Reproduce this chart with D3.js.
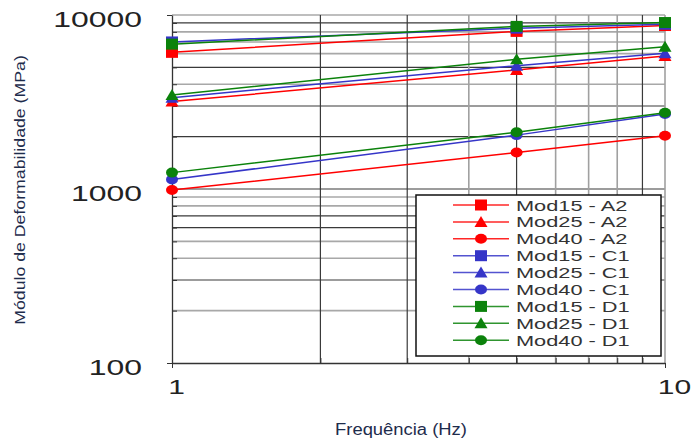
<!DOCTYPE html>
<html>
<head>
<meta charset="utf-8">
<script src="https://cdn.jsdelivr.net/npm/d3@7"></script>
<style>
  body { margin: 0; background: #fff; }
  text { font-family: "Liberation Sans", Arial, sans-serif; }
</style>
</head>
<body>
<div id="chart"></div>
<script>
// Frequencies tested (Hz)
const freqs = [1, 5, 10];

// Modulus values (MPa), one array per series
const mod15A2 = [6100, 8050, 8700];
const mod25A2 = [3180, 4830, 5810];
const mod40A2 = [986, 1620, 2025];
const mod15C1 = [7000, 8400, 8850];
const mod25C1 = [3350, 5110, 6030];
const mod40C1 = [1135, 2040, 2700];
const mod15D1 = [6800, 8600, 9050];
const mod25D1 = [3470, 5560, 6580];
const mod40D1 = [1242, 2120, 2740];

const seriesNames = ["Mod15 - A2", "Mod25 - A2", "Mod40 - A2",
                     "Mod15 - C1", "Mod25 - C1", "Mod40 - C1",
                     "Mod15 - D1", "Mod25 - D1", "Mod40 - D1"];
const seriesValues = [mod15A2, mod25A2, mod40A2, mod15C1, mod25C1, mod40C1, mod15D1, mod25D1, mod40D1];

// Axis ticks
const yTickLabels = [100, 1000, 10000];
const xTickLabels = [1, 10];

// Style per series
const colors = { A2: "#ff0000", C1: "#3535c8", D1: "#0b820b" };
const shapeOf = name => name.startsWith("Mod15") ? "square" : name.startsWith("Mod25") ? "triangle" : "circle";
const colorOf = name => colors[name.slice(-2)];

const series = seriesNames.map((name, i) => ({
    name: name,
    values: freqs.map((f, j) => ({ x: f, y: seriesValues[i][j] }))
}));

const W = 694, H = 441;
const margin = { top: 15, right: 29, bottom: 78, left: 172 };
const width = W - margin.left - margin.right;
const height = H - margin.top - margin.bottom;

const svg = d3.select("#chart").append("svg")
    .attr("width", W)
    .attr("height", H)
    .style("display", "block");

svg.append("rect").attr("width", W).attr("height", H).attr("fill", "#fff");

const g = svg.append("g").attr("transform", "translate(" + margin.left + "," + margin.top + ")");

const x = d3.scaleLog().domain([1, 10]).range([0, width]);
const y = d3.scaleLog().domain([100, 10000]).range([height, 0]);

// widen text like the scanned original
function stretch(sel, k) {
    sel.each(function () {
        const w = this.getComputedTextLength();
        d3.select(this).attr("textLength", w * k).attr("lengthAdjust", "spacingAndGlyphs");
    });
}

// Gridlines (some dark, some light, as in the original)
const yGrid = [200, 300, 400, 500, 600, 700, 800, 900, 1000, 2000, 3000, 4000, 5000, 6000, 7000, 8000, 9000, 10000];
const xGrid = [2, 3, 4, 5, 6, 7, 8, 9, 10];
const darkY = new Set([300, 600, 700, 1000, 2000, 3000, 5000, 9000]);
const darkX = new Set([2, 3, 5, 9]);

g.selectAll(".hgrid")
    .data(yGrid)
    .enter()
    .append("line")
    .attr("class", "hgrid")
    .attr("x1", 0)
    .attr("x2", width)
    .attr("y1", d => y(d))
    .attr("y2", d => y(d))
    .attr("stroke", d => darkY.has(d) ? "#3a3a3a" : "#a8a8a8")
    .attr("stroke-width", d => darkY.has(d) ? 1.2 : 1.6);

g.selectAll(".vgrid")
    .data(xGrid)
    .enter()
    .append("line")
    .attr("class", "vgrid")
    .attr("x1", d => x(d))
    .attr("x2", d => x(d))
    .attr("y1", 0)
    .attr("y2", height)
    .attr("stroke", d => darkX.has(d) ? "#3a3a3a" : "#a0a0a0")
    .attr("stroke-width", d => darkX.has(d) ? 1.2 : 1.6);

// Y axis
const yAxis = g.append("g")
    .call(d3.axisLeft(y).tickValues(yTickLabels).tickFormat(d3.format("d")).tickSize(5).tickSizeOuter(0));
yAxis.select(".domain").attr("stroke", "#333").attr("stroke-width", 1.3);
yAxis.selectAll(".tick line").attr("stroke", "#333");
yAxis.selectAll("text")
    .attr("x", -30)
    .attr("dy", "0.5em")
    .attr("fill", "#222")
    .style("font-size", "22px")
    .call(stretch, 1.45);

// minor y ticks inside
g.append("g")
    .call(d3.axisRight(y).tickValues(yGrid.filter(d => d !== 1000 && d !== 10000)).tickFormat("").tickSize(5).tickSizeOuter(0))
    .call(a => a.select(".domain").remove())
    .selectAll("line").attr("stroke", "#333");

// X axis
const xAxis = g.append("g")
    .attr("transform", "translate(0," + height + ")")
    .call(d3.axisBottom(x).tickValues(xTickLabels).tickFormat(d3.format("d")).tickSize(5).tickSizeOuter(0));
xAxis.select(".domain").attr("stroke", "#333").attr("stroke-width", 1.3);
xAxis.selectAll(".tick line").attr("stroke", "#333");
xAxis.selectAll("text")
    .attr("y", 31)
    .attr("dy", 0)
    .attr("dx", d => d === 10 ? 9 : 4)
    .attr("fill", "#222")
    .style("font-size", "20px")
    .call(stretch, 1.5);

// minor x ticks inside
g.append("g")
    .attr("transform", "translate(0," + height + ")")
    .call(d3.axisTop(x).tickValues(xGrid.filter(d => d !== 10)).tickFormat("").tickSize(5).tickSizeOuter(0))
    .call(a => a.select(".domain").remove())
    .selectAll("line").attr("stroke", "#333");

// Marker drawing
function drawMarker(sel, shape, color) {
    if (shape === "square") {
        sel.append("rect").attr("x", -6).attr("y", -5.5).attr("width", 12).attr("height", 11).attr("fill", color);
    } else if (shape === "triangle") {
        sel.append("path").attr("d", "M0,-6L6.5,5L-6.5,5Z").attr("fill", color);
    } else {
        sel.append("ellipse").attr("rx", 6).attr("ry", 5).attr("fill", color);
    }
}

const line = d3.line().x(d => x(d.x)).y(d => y(d.y));

series.forEach(s => {
    const color = colorOf(s.name);
    g.append("path")
        .datum(s.values)
        .attr("d", line)
        .attr("fill", "none")
        .attr("stroke", color)
        .attr("stroke-width", 1.5);
    g.selectAll(null)
        .data(s.values)
        .enter()
        .append("g")
        .attr("transform", d => "translate(" + x(d.x) + "," + y(d.y) + ")")
        .each(function () { drawMarker(d3.select(this), shapeOf(s.name), color); });
});

// Legend
const legend = svg.append("g").attr("transform", "translate(416,195)");
legend.append("rect")
    .attr("width", 245)
    .attr("height", 161)
    .attr("fill", "#fff")
    .attr("stroke", "#111")
    .attr("stroke-width", 1.5);

const rowH = 16.9;
const items = legend.selectAll(".item")
    .data(series)
    .enter()
    .append("g")
    .attr("class", "item")
    .attr("transform", (d, i) => "translate(0," + (10 + i * rowH) + ")");

items.append("line")
    .attr("x1", 37)
    .attr("x2", 93)
    .attr("stroke", d => colorOf(d.name))
    .attr("stroke-opacity", 0.85)
    .attr("stroke-width", 1.5);

items.append("g")
    .attr("transform", "translate(65,0)")
    .each(function (d) { drawMarker(d3.select(this), shapeOf(d.name), colorOf(d.name)); });

items.append("text")
    .attr("x", 100)
    .attr("y", 5.5)
    .attr("fill", "#333")
    .style("font-size", "15px")
    .text(d => d.name)
    .call(stretch, 1.45);

// Axis titles
svg.append("text")
    .attr("x", 401)
    .attr("y", 435)
    .attr("text-anchor", "middle")
    .attr("fill", "#1e2c4c")
    .style("font-size", "16px")
    .text("Frequência (Hz)")
    .call(stretch, 1.15);

svg.append("text")
    .attr("transform", "translate(25,190) rotate(-90)")
    .attr("text-anchor", "middle")
    .attr("fill", "#1e2c4c")
    .style("font-size", "15px")
    .text("Módulo de Deformabilidade (MPa)")
    .call(stretch, 1.18);
</script>
</body>
</html>
